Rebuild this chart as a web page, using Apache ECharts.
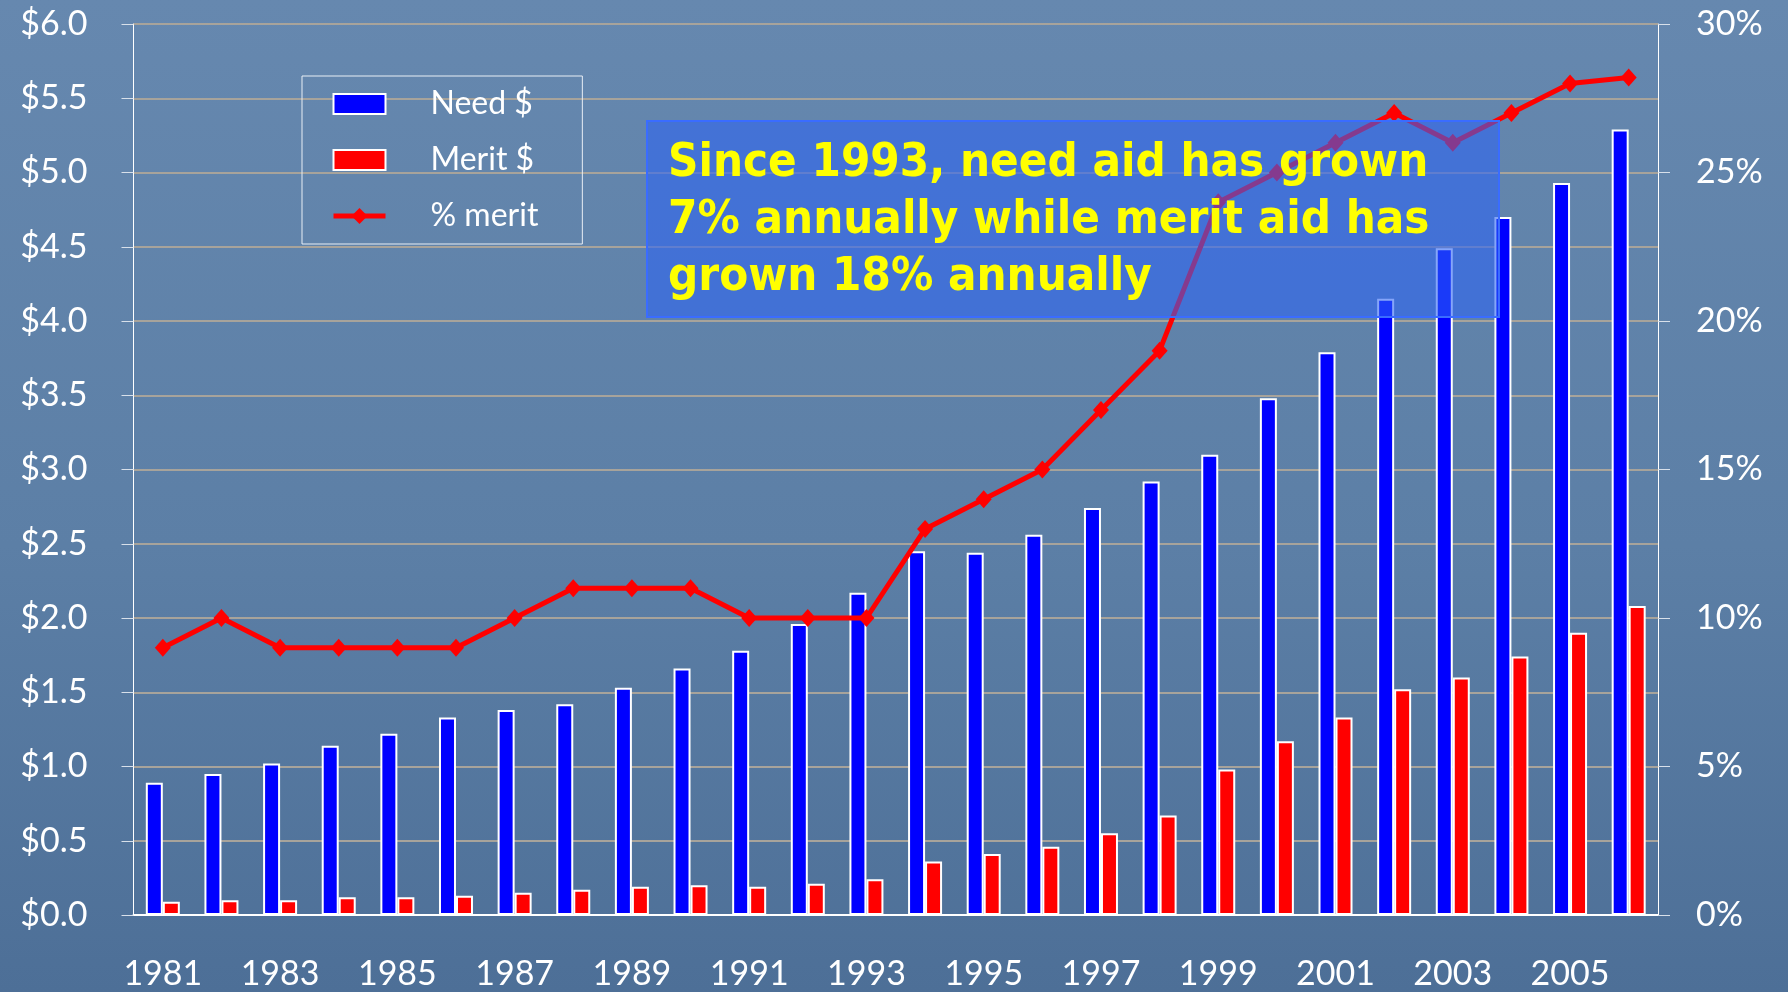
<!DOCTYPE html>
<html>
<head>
<meta charset="utf-8">
<script src="https://cdn.jsdelivr.net/npm/echarts@6/dist/echarts.min.js"></script>
<style>
  html, body { margin: 0; padding: 0; }
  body {
    width: 1788px; height: 992px;
    background: linear-gradient(180deg, #6688af 0%, #5c7fa6 55%, #4d6f97 100%);
  }
  #chart { width: 1788px; height: 992px; }
</style>
</head>
<body>
<div id="chart"></div>
<script>
const years = ['1981', '1982', '1983', '1984', '1985', '1986', '1987', '1988', '1989', '1990',
  '1991', '1992', '1993', '1994', '1995', '1996', '1997', '1998', '1999', '2000',
  '2001', '2002', '2003', '2004', '2005', '2006']

// billions of dollars
const needAid = [0.89, 0.95, 1.02, 1.14, 1.22, 1.33, 1.38, 1.42, 1.53, 1.66,
  1.78, 1.96, 2.17, 2.45, 2.44, 2.56, 2.74, 2.92, 3.10, 3.48,
  3.79, 4.15, 4.49, 4.70, 4.93, 5.29]
const meritAid = [0.09, 0.10, 0.10, 0.12, 0.12, 0.13, 0.15, 0.17, 0.19, 0.20,
  0.19, 0.21, 0.24, 0.36, 0.41, 0.46, 0.55, 0.67, 0.98, 1.17,
  1.33, 1.52, 1.60, 1.74, 1.90, 2.08]
// percent of aid that is merit based
const pctMerit = [9, 10, 9, 9, 9, 9, 10, 11, 11, 11,
  10, 10, 10, 13, 14, 15, 17, 19, 24, 25,
  26, 27, 26, 27, 28, 28.2]

const seriesNames = ['Need $', 'Merit $', '% merit']
const noteLines = [
  'Since 1993, need aid has grown',
  '7% annually while merit aid has',
  'grown 18% annually'
]

const labelFont = 'Lato, "Open Sans", sans-serif'
const gridColor = '#a7a39b'

const chart = echarts.init(document.getElementById('chart'))

chart.setOption({
  backgroundColor: 'transparent',
  animation: false,
  grid: { left: 133.5, right: 130, top: 24, bottom: 77 },
  legend: {
    orient: 'vertical',
    left: 302,
    top: 76,
    padding: [12, 44, 12, 29],
    itemWidth: 52,
    itemHeight: 20,
    itemGap: 24,
    borderColor: '#e8eef5',
    borderWidth: 1,
    textStyle: { color: '#fff', fontSize: 32, fontFamily: labelFont, padding: [0, 0, 0, 40] },
    data: [
      { name: seriesNames[0], icon: 'rect' },
      { name: seriesNames[1], icon: 'rect' },
      {
        name: seriesNames[2],
        lineStyle: { color: '#ff0000', width: 5 },
        itemStyle: { color: '#ff0000' }
      }
    ]
  },
  xAxis: {
    type: 'category',
    data: years,
    boundaryGap: true,
    axisLine: { lineStyle: { color: '#fff', width: 2 } },
    axisTick: { interval: 0, length: 12, lineStyle: { color: '#d8e0ea', width: 1 } },
    axisLabel: { interval: 1, color: '#fff', fontSize: 34, fontFamily: labelFont, margin: 42 }
  },
  yAxis: [
    {
      type: 'value',
      min: 0,
      max: 6,
      interval: 0.5,
      axisLine: { show: true, lineStyle: { color: '#fff', width: 1 } },
      axisTick: { show: true, length: 12, lineStyle: { color: '#d8e0ea' } },
      axisLabel: {
        color: '#fff', fontSize: 34, fontFamily: labelFont, margin: 46,
        formatter: v => '$' + v.toFixed(1)
      },
      splitLine: { lineStyle: { color: gridColor, width: 2 } }
    },
    {
      type: 'value',
      min: 0,
      max: 30,
      interval: 5,
      axisLine: { show: true, lineStyle: { color: '#fff', width: 1 } },
      axisTick: { show: true, length: 12, lineStyle: { color: '#d8e0ea' } },
      axisLabel: {
        color: '#fff', fontSize: 34, fontFamily: labelFont, margin: 38,
        formatter: '{value}%'
      },
      splitLine: { show: false }
    }
  ],
  series: [
    {
      name: seriesNames[0],
      type: 'bar',
      data: needAid,
      barWidth: 17,
      barGap: '0%',
      itemStyle: { color: '#0000ff', borderColor: '#ffffff', borderWidth: 2 }
    },
    {
      name: seriesNames[1],
      type: 'bar',
      data: meritAid,
      barWidth: 17,
      barGap: '0%',
      itemStyle: { color: '#ff0000', borderColor: '#ffffff', borderWidth: 2 }
    },
    {
      name: seriesNames[2],
      type: 'line',
      yAxisIndex: 1,
      data: pctMerit,
      z: 5,
      symbol: 'diamond',
      symbolSize: [16, 18],
      lineStyle: { color: '#ff0000', width: 5 },
      itemStyle: { color: '#ff0000' }
    }
  ],
  graphic: [
    {
      type: 'group',
      left: 646,
      top: 120,
      zlevel: 2,
      z: 100,
      children: [
        {
          type: 'rect',
          z: 100,
          shape: { x: 0, y: 0, width: 852, height: 196 },
          style: { fill: 'rgba(45, 100, 245, 0.58)', stroke: '#3a6cff', lineWidth: 2 }
        },
        {
          type: 'text',
          z: 101,
          x: 21,
          y: 14,
          style: {
            text: noteLines.join('\n'),
            fill: '#ffff00',
            font: 'bold 47px "DejaVu Sans Condensed", "DejaVu Sans", sans-serif',
            lineHeight: 57
          }
        }
      ]
    }
  ]
})
</script>
</body>
</html>
